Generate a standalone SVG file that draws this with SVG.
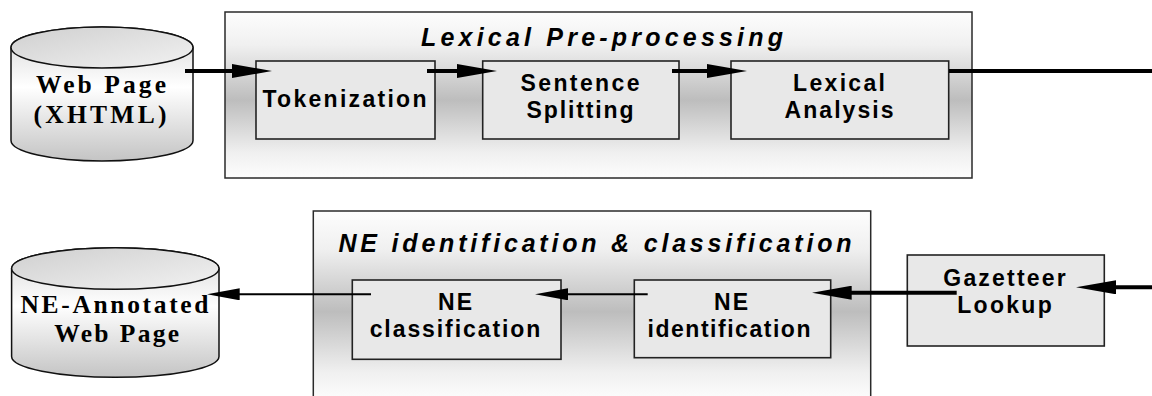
<svg xmlns="http://www.w3.org/2000/svg" width="1152" height="396" viewBox="0 0 1152 396">
  <style>
    .stage { stroke: #2a2a2a; stroke-width: 1.5; fill: url(#stageFill); }
    .box { stroke: #222; stroke-width: 1.6; fill: #e8e8e8; }
    .title { font-family: "Liberation Sans", Arial, sans-serif; font-weight: bold; font-style: italic; font-size: 25px; fill: #000; text-anchor: middle; }
    .label { font-family: "Liberation Sans", Arial, sans-serif; font-weight: bold; font-size: 23px; fill: #000; text-anchor: middle; }
    .store { font-family: "Liberation Serif", "Times New Roman", serif; font-weight: bold; font-size: 25.5px; fill: #000; text-anchor: middle; }
    .cyl-body { stroke: #111; stroke-width: 1.5; fill: url(#cylBody); }
    .cyl-top { stroke: #111; stroke-width: 1.5; fill: url(#cylTop); }
    .thick { stroke: #000; stroke-width: 4; fill: none; marker-end: url(#headBig); }
    .thin { stroke: #000; stroke-width: 2; fill: none; marker-end: url(#headSmall); }
  </style>
  <defs>
    <linearGradient id="stageFill" x1="0" y1="0" x2="0" y2="1">
      <stop offset="0" stop-color="#fdfdfd"/>
      <stop offset="0.2" stop-color="#f0f0f0"/>
      <stop offset="0.53" stop-color="#bdbdbd"/>
      <stop offset="0.85" stop-color="#f0f0f0"/>
      <stop offset="1" stop-color="#fdfdfd"/>
    </linearGradient>
    <linearGradient id="cylBody" x1="0" y1="0" x2="0" y2="1">
      <stop offset="0" stop-color="#d6d6d6"/>
      <stop offset="0.45" stop-color="#ffffff"/>
      <stop offset="1" stop-color="#c4c4c4"/>
    </linearGradient>
    <linearGradient id="cylTop" x1="0" y1="0" x2="1" y2="1">
      <stop offset="0" stop-color="#cfcfcf"/>
      <stop offset="1" stop-color="#f2f2f2"/>
    </linearGradient>
    <marker id="headBig" markerUnits="userSpaceOnUse" markerWidth="40" markerHeight="14" refX="1" refY="7" orient="auto">
      <path d="M0,0 L40,7 L0,14 Z" fill="#000"/>
    </marker>
    <marker id="headSmall" markerUnits="userSpaceOnUse" markerWidth="33" markerHeight="12" refX="1" refY="6" orient="auto">
      <path d="M0,0 L33,6 L0,12 Z" fill="#000"/>
    </marker>
  </defs>

  <!-- upper stage -->
  <g id="lexical-preprocessing">
    <rect class="stage" x="225" y="12" width="747" height="166"/>
    <text class="title" x="602" y="45.5" textLength="362">Lexical Pre-processing</text>
  </g>
  <g id="tokenization">
    <rect class="box" x="256" y="61" width="179" height="78"/>
    <text class="label" x="344.5" y="107.3" textLength="164">Tokenization</text>
  </g>
  <g id="sentence-splitting">
    <rect class="box" x="482.7" y="61" width="196.3" height="78"/>
    <text class="label" x="580" y="90.5" textLength="119">Sentence</text>
    <text class="label" x="580" y="117.5" textLength="107">Splitting</text>
  </g>
  <g id="lexical-analysis">
    <rect class="box" x="731" y="61" width="217.7" height="78"/>
    <text class="label" x="839" y="90.5" textLength="92">Lexical</text>
    <text class="label" x="839" y="117.5" textLength="109">Analysis</text>
  </g>
  <g id="web-page">
    <path class="cyl-body" d="M11,47.5 V140.5 A91,20.5 0 0 0 193,140.5 V47.5 A91,20.5 0 0 0 11,47.5 Z"/>
    <ellipse class="cyl-top" cx="102" cy="47.5" rx="91" ry="20.5"/>
    <text class="store" x="101" y="92.7" textLength="130">Web Page</text>
    <text class="store" x="100" y="123" textLength="133">(XHTML)</text>
  </g>

  <!-- lower stage -->
  <g id="ne-identification-classification">
    <rect class="stage" x="313.3" y="211" width="557.4" height="190"/>
    <text class="title" x="595" y="251.7" textLength="513">NE identification &amp; classification</text>
  </g>
  <g id="ne-classification">
    <rect class="box" x="352.3" y="280" width="208.7" height="79.3"/>
    <text class="label" x="455" y="310" textLength="34">NE</text>
    <text class="label" x="455" y="336.7" textLength="170.7">classification</text>
  </g>
  <g id="ne-identification">
    <rect class="box" x="634.3" y="280" width="196.4" height="77.7"/>
    <text class="label" x="731" y="310" textLength="34">NE</text>
    <text class="label" x="729" y="336.7" textLength="163">identification</text>
  </g>
  <g id="gazetteer-lookup">
    <rect class="box" x="907.3" y="255" width="197" height="91"/>
    <text class="label" x="1004.5" y="286" textLength="122.4">Gazetteer</text>
    <text class="label" x="1004.5" y="312.5" textLength="94.4">Lookup</text>
  </g>
  <g id="ne-annotated-web-page">
    <path class="cyl-body" d="M11.6,268.5 V356.5 A103.7,20.8 0 0 0 219,356.5 V268.5 A103.7,20.8 0 0 0 11.6,268.5 Z"/>
    <ellipse class="cyl-top" cx="115.3" cy="268.5" rx="103.7" ry="20.8"/>
    <text class="store" x="114.5" y="312.7" textLength="188">NE-Annotated</text>
    <text class="store" x="116.7" y="341.7" textLength="125">Web Page</text>
  </g>

  <!-- connectors -->
  <g id="connectors">
    <line class="thick" x1="185" y1="71" x2="233" y2="71"/>
    <line class="thick" x1="427" y1="71" x2="458" y2="71"/>
    <line class="thick" x1="672" y1="71" x2="708" y2="71"/>
    <line x1="949" y1="71" x2="1152" y2="71" stroke="#000" stroke-width="4"/>
    <line class="thick" x1="1152" y1="287.3" x2="1115" y2="287.3"/>
    <line class="thick" x1="956.7" y1="292.7" x2="850.7" y2="292.7"/>
    <line class="thin" x1="647.7" y1="294.3" x2="567" y2="294.3"/>
    <line class="thin" x1="371" y1="294.3" x2="238.7" y2="294.3"/>
  </g>
</svg>
